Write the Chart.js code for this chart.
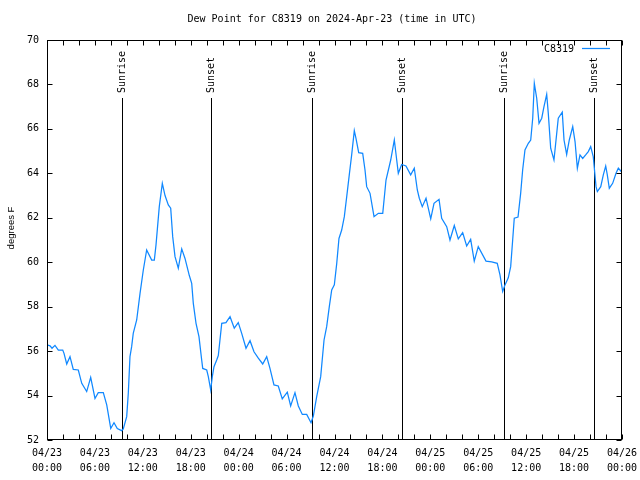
<!DOCTYPE html>
<html>
<head>
<meta charset="utf-8">
<script src="https://cdn.jsdelivr.net/npm/chart.js@4"></script>
<style>
html, body { margin: 0; padding: 0; background: #fff; }
</style>
</head>
<body>
<canvas id="dewChart" width="640" height="480"></canvas>
<script>
// station + data (hours since 04/23 00:00 UTC)
var stationName = 'C8319';
var chartTitle = 'Dew Point for C8319 on 2024-Apr-23 (time in UTC)';
var yLabel = 'degrees F';
var hours = [0.0, 0.38, 0.63, 1.0, 1.42, 1.97, 2.13, 2.47, 2.88, 3.29, 3.92, 4.35, 4.97, 5.47, 6.01, 6.42, 7.05, 7.48, 7.98, 8.39,
  8.8, 9.35, 9.55, 9.98, 10.18, 10.39, 10.6, 10.8, 11.23, 11.65, 12.06, 12.48, 13.11, 13.44, 13.65, 14.06, 14.44, 14.78, 15.19, 15.49,
  15.74, 16.03, 16.44, 16.87, 17.28, 17.82, 18.12, 18.32, 18.66, 19.03, 19.37, 19.5, 20.0, 20.2, 20.5, 20.7, 20.91, 21.25, 21.45, 21.88,
  22.41, 22.92, 23.45, 23.95, 24.38, 24.92, 25.42, 25.92, 26.46, 27.01, 27.51, 27.92, 28.42, 28.96, 29.46, 30.09, 30.51, 31.05, 31.47, 31.97,
  32.52, 33.06, 33.35, 33.77, 34.27, 34.69, 35.02, 35.35, 35.65, 35.98, 36.28, 36.56, 36.9, 37.23, 37.53, 37.85, 38.15, 38.48, 38.69, 39.03,
  39.53, 39.82, 40.03, 40.45, 40.95, 41.49, 42.04, 42.45, 43.04, 43.49, 43.79, 43.99, 44.41, 44.95, 45.54, 45.99, 46.37, 46.62, 46.99, 47.46,
  48.05, 48.46, 49.09, 49.42, 50.05, 50.46, 51.0, 51.5, 52.05, 52.55, 53.05, 53.5, 54.0, 54.97, 55.68, 56.38, 56.72, 57.06, 57.35, 57.76,
  58.06, 58.31, 58.51, 58.98, 59.31, 59.56, 59.85, 60.27, 60.57, 60.82, 61.02, 61.32, 61.61, 61.95, 62.23, 62.57, 62.77, 63.07, 63.48, 63.74,
  64.02, 64.52, 64.74, 65.07, 65.4, 65.83, 66.12, 66.41, 66.74, 67.08, 67.45, 67.78, 68.08, 68.4, 68.75, 68.91, 69.34, 69.66, 69.96, 70.16,
  70.41, 70.83, 71.25, 71.54, 72.0];
var dewPoint = [56.28, 56.24, 56.13, 56.26, 56.05, 56.05, 55.9, 55.42, 55.75, 55.18, 55.15, 54.55, 54.18, 54.82, 53.87, 54.13, 54.13, 53.58, 52.52, 52.78,
  52.52, 52.42, 52.5, 53.05, 54.1, 55.75, 56.2, 56.8, 57.4, 58.6, 59.65, 60.55, 60.1, 60.1, 60.78, 62.5, 63.55, 63.0, 62.58, 62.43,
  61.15, 60.25, 59.73, 60.6, 60.17, 59.4, 59.05, 58.15, 57.25, 56.65, 55.6, 55.22, 55.15, 54.85, 54.25, 54.85, 55.3, 55.6, 55.8, 57.25,
  57.28, 57.55, 57.03, 57.28, 56.8, 56.13, 56.47, 55.97, 55.68, 55.42, 55.75, 55.22, 54.48, 54.43, 53.85, 54.15, 53.53, 54.13, 53.53, 53.15,
  53.15, 52.78, 53.08, 53.95, 54.85, 56.5, 57.1, 58.0, 58.75, 58.98, 59.95, 61.07, 61.45, 62.05, 62.95, 63.93, 64.83, 65.92, 65.57, 64.93,
  64.9, 64.15, 63.4, 63.1, 62.05, 62.2, 62.2, 63.7, 64.6, 65.5, 64.6, 64.0, 64.4, 64.33, 63.93, 64.23, 63.25, 62.88, 62.5, 62.88,
  61.95, 62.65, 62.83, 61.98, 61.6, 61.0, 61.65, 61.05, 61.33, 60.73, 61.03, 60.05, 60.7, 60.05, 60.02, 59.95, 59.43, 58.68, 58.98, 59.3,
  59.8, 61.0, 61.98, 62.03, 63.1, 64.15, 65.05, 65.35, 65.5, 66.48, 68.05, 67.38, 66.25, 66.48, 67.0, 67.55, 66.7, 65.13, 64.6, 65.5,
  66.48, 66.75, 65.5, 64.85, 65.5, 66.1, 65.43, 64.23, 64.83, 64.67, 64.83, 64.98, 65.2, 64.75, 63.4, 63.18, 63.4, 63.93, 64.33, 63.93,
  63.33, 63.55, 64.0, 64.23, 64.05];
var sunriseHours = [9.35, 33.22, 57.26];
var sunsetHours = [20.53, 44.47, 68.53];
var tickDays = ['04/23', '04/24', '04/25', '04/26'];

var monoFont = 'DejaVu Sans Mono';

function pad2(n) { return (n < 10 ? '0' : '') + n; }

var points = [];
for (var i = 0; i < hours.length; i++) {
  points.push({x: hours[i], y: dewPoint[i]});
}

// title, border, inward ticks, sunrise/sunset markers and legend, gnuplot style
var gnuplotBits = {
  id: 'gnuplotBits',
  beforeDatasetsDraw: function(chart) {
    var ctx = chart.ctx, a = chart.chartArea, xs = chart.scales.x;
    ctx.save();
    ctx.strokeStyle = '#000';
    ctx.fillStyle = '#000';
    ctx.lineWidth = 1;
    ctx.font = '10px "' + monoFont + '"';

    ctx.textAlign = 'center';
    ctx.textBaseline = 'middle';
    ctx.fillText(chartTitle, 332, 19);

    ctx.save();
    ctx.font = '9.5px "Liberation Sans"';
    ctx.translate(11, 228);
    ctx.rotate(-Math.PI / 2);
    ctx.fillText(yLabel, 0, 0);
    ctx.restore();

    var marks = [];
    sunriseHours.forEach(function(h) { marks.push([h, 'Sunrise']); });
    sunsetHours.forEach(function(h) { marks.push([h, 'Sunset']); });
    marks.forEach(function(m) {
      var px = Math.round(xs.getPixelForValue(m[0])) + 0.5;
      ctx.beginPath();
      ctx.moveTo(px, a.top + 58);
      ctx.lineTo(px, a.bottom);
      ctx.stroke();
      ctx.save();
      ctx.translate(px, a.top + 53);
      ctx.rotate(-Math.PI / 2);
      ctx.textAlign = 'left';
      ctx.textBaseline = 'middle';
      ctx.fillText(m[1], 0, 0);
      ctx.restore();
    });
    ctx.restore();
  },
  afterDatasetsDraw: function(chart) {
    var ctx = chart.ctx, a = chart.chartArea, xs = chart.scales.x, ys = chart.scales.y;
    var l = Math.round(a.left) + 0.5, r = Math.round(a.right) - 0.5;
    var t = Math.round(a.top) + 0.5, b = Math.round(a.bottom) - 0.5;
    ctx.save();
    ctx.strokeStyle = '#000';
    ctx.lineWidth = 1;
    ctx.beginPath();
    xs.ticks.forEach(function(tk) {
      var px = Math.round(xs.getPixelForValue(tk.value)) + 0.5;
      ctx.moveTo(px, b); ctx.lineTo(px, b - 5);
      ctx.moveTo(px, t); ctx.lineTo(px, t + 5);
    });
    ys.ticks.forEach(function(tk) {
      var py = Math.round(ys.getPixelForValue(tk.value)) + 0.5;
      ctx.moveTo(l, py); ctx.lineTo(l + 5, py);
      ctx.moveTo(r, py); ctx.lineTo(r - 5, py);
    });
    ctx.stroke();
    ctx.strokeRect(l, t, r - l, b - t);

    // legend
    var ds = chart.data.datasets[0];
    ctx.font = '10px "' + monoFont + '"';
    ctx.fillStyle = '#000';
    ctx.textAlign = 'right';
    ctx.textBaseline = 'middle';
    ctx.fillText(ds.label, a.right - 48, a.top + 9);
    ctx.strokeStyle = ds.borderColor;
    ctx.lineWidth = ds.borderWidth;
    ctx.beginPath();
    ctx.moveTo(a.right - 40, a.top + 8.5);
    ctx.lineTo(a.right - 12, a.top + 8.5);
    ctx.stroke();
    ctx.restore();
  }
};

var ctx = document.getElementById('dewChart');
var dewChart = new Chart(ctx, {
  type: 'line',
  data: {
    datasets: [{
      label: stationName,
      data: points,
      borderColor: '#1088ff',
      borderWidth: 1.25,
      pointRadius: 0,
      tension: 0,
      fill: false
    }]
  },
  options: {
    responsive: false,
    animation: false,
    layout: { padding: { left: 0, right: 18, top: 40, bottom: 0 } },
    plugins: {
      legend: { display: false },
      tooltip: { enabled: false },
      title: { display: false }
    },
    scales: {
      x: {
        type: 'linear',
        min: 0,
        max: 72,
        grid: { display: false, drawTicks: false },
        border: { display: false },
        ticks: {
          stepSize: 2,
          autoSkip: false,
          maxRotation: 0,
          padding: 6,
          color: '#000',
          font: { family: monoFont, size: 10, lineHeight: 1.5 },
          callback: function(v) {
            if (v % 6 !== 0) return '';
            return [tickDays[Math.floor(v / 24)], pad2(v % 24) + ':00'];
          }
        },
        afterFit: function(s) {
          s.height = 40;
          s.paddingLeft = 0;
          s.paddingRight = 0;
        }
      },
      y: {
        min: 52,
        max: 70,
        grid: { display: false, drawTicks: false },
        border: { display: false },
        ticks: {
          stepSize: 2,
          padding: 8,
          color: '#000',
          font: { family: monoFont, size: 10 }
        },
        afterFit: function(s) { s.width = 47; }
      }
    }
  },
  plugins: [gnuplotBits]
});
</script>
</body>
</html>
